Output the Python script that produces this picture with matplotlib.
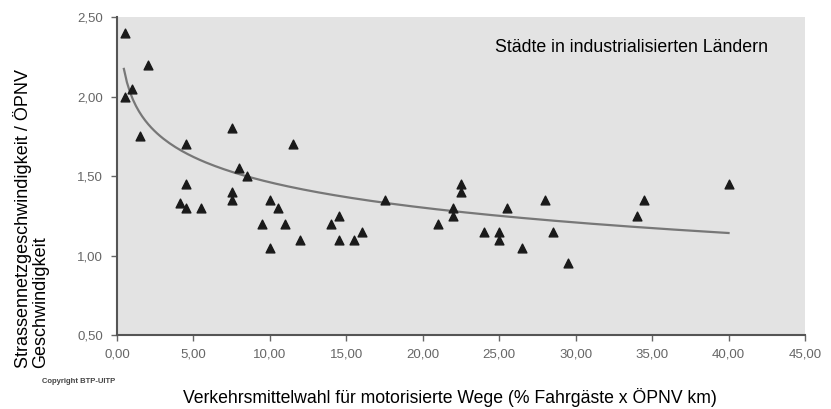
import matplotlib.pyplot as plt
import numpy as np

plt.rcParams['font.family'] = ['Liberation Sans', 'DejaVu Sans']

# share of public transport (x) vs road/public transport speed ratio (y)
share = [0.5, 0.5, 1.0, 1.5, 2.0, 4.1, 4.5, 4.5, 4.5, 5.5, 7.5, 7.5, 7.5,
         8.0, 8.5, 9.5, 10.0, 10.0, 10.5, 11.0, 11.5, 12.0, 14.0, 14.5,
         14.5, 15.5, 16.0, 17.5, 21.0, 22.0, 22.0, 22.5, 22.5, 24.0, 25.0,
         25.0, 25.5, 26.5, 28.0, 28.5, 29.5, 34.0, 34.5, 40.0]
ratio = [2.40, 2.00, 2.05, 1.75, 2.20, 1.33, 1.70, 1.45, 1.30, 1.30, 1.80,
         1.40, 1.35, 1.55, 1.50, 1.20, 1.35, 1.05, 1.30, 1.20, 1.70, 1.10,
         1.20, 1.25, 1.10, 1.10, 1.15, 1.35, 1.20, 1.30, 1.25, 1.45, 1.40,
         1.15, 1.15, 1.10, 1.30, 1.05, 1.35, 1.15, 0.95, 1.25, 1.35, 1.45]

# logarithmic trend line y = a + b*ln(x)
trend_a = 1.99
trend_b = -0.23
trend_start = 0.45
trend_end = 40.0

xticks = [0, 5, 10, 15, 20, 25, 30, 35, 40, 45]
yticks = [0.5, 1.0, 1.5, 2.0, 2.5]

fig = plt.figure(figsize=(8.31, 4.09), dpi=100)
ax = fig.add_axes([0.1408, 0.1809, 0.8279, 0.7775])
ax.set_facecolor('#e3e3e3')

xs = np.linspace(trend_start, trend_end, 200)
ax.plot(xs, trend_a + trend_b * np.log(xs), color='#777777', lw=1.6, zorder=2)

ax.scatter(share, ratio, marker='^', s=40, color='#1a1a1a', zorder=3)

ax.set_xlim(0, 45)
ax.set_ylim(0.5, 2.5)
ax.set_xticks(xticks)
ax.set_yticks(yticks)
ax.set_xticklabels([f'{t:.2f}'.replace('.', ',') for t in xticks])
ax.set_yticklabels([f'{t:.2f}'.replace('.', ',') for t in yticks])
ax.tick_params(labelsize=9.5, colors='#666666', length=4, width=1)
ax.tick_params(axis='x', pad=6)
ax.tick_params(axis='y', pad=6)
for side in ['top', 'right']:
    ax.spines[side].set_visible(False)
for side in ['left', 'bottom']:
    ax.spines[side].set_color('#555555')
    ax.spines[side].set_linewidth(1.5)

ax.text(0.946, 0.903, 'Städte in industrialisierten Ländern', transform=ax.transAxes,
        ha='right', va='center', fontsize=12.8)

fig.text(0.0156, 0.1, 'Strassennetzgeschwindigkeit / ÖPNV\nGeschwindigkeit',
         rotation=90, ha='left', va='bottom', fontsize=13, linespacing=1.0)
fig.text(0.5415, 0.027, 'Verkehrsmittelwahl für motorisierte Wege (% Fahrgäste x ÖPNV km)',
         ha='center', va='center', fontsize=12.7)
fig.text(0.05, 0.068, 'Copyright BTP-UITP', ha='left', va='center',
         fontsize=5.5, fontweight='bold', color='#444444')

fig.savefig('out.png', dpi=100)
